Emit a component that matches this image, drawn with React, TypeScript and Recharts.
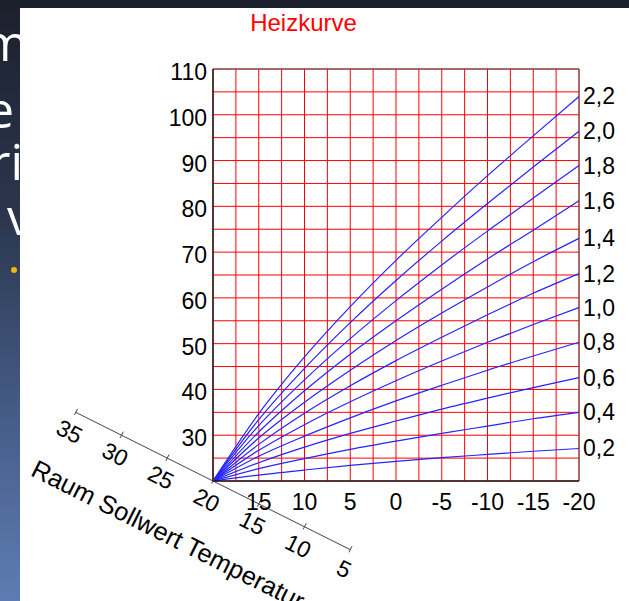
import React from "react";
import {
  LineChart, Line, XAxis, YAxis, CartesianGrid,
  ReferenceArea, ReferenceLine, ReferenceDot,
} from "recharts";

// Außentemperatur (x) und Vorlauftemperatur je Steilheit (y)
const aussen = [20, 15, 10, 5, 0, -5, -10, -15, -20];
const steilheiten = ["0,2", "0,4", "0,6", "0,8", "1,0", "1,2", "1,4", "1,6", "1,8", "2,0", "2,2"];
const k02 = [20, 21.3, 22.4, 23.4, 24.3, 25.1, 25.8, 26.5, 27.1];
const k04 = [20, 22.7, 24.9, 26.9, 28.7, 30.4, 32.0, 33.6, 35.0];
const k06 = [20, 24.0, 27.4, 30.4, 33.1, 35.7, 38.1, 40.4, 42.6];
const k08 = [20, 25.4, 29.8, 33.8, 37.5, 40.9, 44.2, 47.3, 50.3];
const k10 = [20, 26.7, 32.3, 37.3, 41.9, 46.2, 50.3, 54.2, 57.9];
const k12 = [20, 28.0, 34.8, 40.8, 46.3, 51.4, 56.3, 61.0, 65.3];
const k14 = [20, 29.4, 37.2, 44.2, 50.7, 56.7, 62.4, 67.9, 73.0];
const k16 = [20, 30.7, 39.7, 47.7, 55.0, 61.9, 68.5, 74.8, 81.2];
const k18 = [20, 32.1, 42.1, 51.1, 59.4, 67.2, 74.6, 81.8, 88.9];
const k20 = [20, 33.4, 44.6, 54.6, 63.8, 72.4, 80.6, 88.6, 96.4];
const k22 = [20, 34.7, 47.1, 58.1, 68.2, 77.6, 86.7, 95.4, 104.0];
const kurven = [k02, k04, k06, k08, k10, k12, k14, k16, k18, k20, k22];

const xTicks = [20, 17.5, 15, 12.5, 10, 7.5, 5, 2.5, 0, -2.5, -5, -7.5, -10, -12.5, -15, -17.5, -20];
const yTicks = [20, 25, 30, 35, 40, 45, 50, 55, 60, 65, 70, 75, 80, 85, 90, 95, 100, 105, 110];
const raumTicks = [35, 30, 25, 20, 15, 10, 5];

const daten = aussen.map((t, i) => {
  const row: Record<string, number> = { t };
  kurven.forEach((k, j) => { row["k" + j] = k[i]; });
  return row;
});

const schrift = "'Liberation Sans', Arial, sans-serif";
const winkel = 26.7;
const rad = (winkel * Math.PI) / 180;
const u = { x: Math.cos(rad), y: Math.sin(rad) };
const n = { x: -Math.sin(rad), y: Math.cos(rad) };

function XTick({ x, y, payload }: any) {
  const v = payload.value;
  if (v % 5 !== 0 || v === 20) return <g />;
  return (
    <text x={x} y={y + 29} textAnchor="middle" fontSize={23} fontFamily={schrift} fill="#000">
      {v}
    </text>
  );
}

function YTick({ x, y, payload }: any) {
  const v = payload.value;
  if (v % 10 !== 0 || v === 20) return <g />;
  return (
    <text x={x - 6} y={y + 11} textAnchor="end" fontSize={23} fontFamily={schrift} fill="#000">
      {v}
    </text>
  );
}

function raumTick(wert: number) {
  return (p: any) => {
    const { cx, cy } = p;
    const lx = cx + u.x * 3 + n.x * 20;
    const ly = cy + u.y * 3 + n.y * 20;
    return (
      <g>
        <line x1={cx - n.x * 4} y1={cy - n.y * 4} x2={cx + n.x * 3} y2={cy + n.y * 3} stroke="#444" />
        <text
          transform={`translate(${lx},${ly}) rotate(${winkel})`}
          textAnchor="middle" dominantBaseline="central"
          fontSize={23} fontFamily={schrift} fill="#000"
        >
          {wert}
        </text>
      </g>
    );
  };
}

function raumTitel(p: any) {
  const { cx, cy } = p;
  const lx = cx + u.x * -16 + n.x * 68;
  const ly = cy + u.y * -16 + n.y * 68;
  return (
    <text
      transform={`translate(${lx},${ly}) rotate(${winkel})`}
      textAnchor="middle" dominantBaseline="central"
      fontSize={25.5} fontFamily={schrift} fill="#000"
    >
      Raum Sollwert Temperatur
    </text>
  );
}

function endLabel(text: string, last: number) {
  return (p: any) => {
    if (p.index !== last) return <g key={p.index} />;
    return (
      <text key={p.index} x={p.cx + 4} y={p.cy + 8} fontSize={23} fontFamily={schrift} fill="#000">
        {text}
      </text>
    );
  };
}

export default function App() {
  const folie = { position: "absolute" as const, color: "#fff", fontSize: 50, lineHeight: "60px" };
  return (
    <div
      style={{
        position: "absolute", left: 0, top: 0, width: 629, height: 601, overflow: "hidden",
        background: "linear-gradient(180deg, #1b202c 0%, #2b364d 35%, #465d89 70%, #5d7db2 100%)",
        fontFamily: "'Open Sans', sans-serif",
      }}
    >
      {/* Reste vom Folientext links */}
      <div style={{ ...folie, left: -18, top: 12 }}>m</div>
      <div style={{ ...folie, left: -14, top: 79 }}>e</div>
      <div style={{ ...folie, left: -10, top: 131 }}>ri</div>
      <div style={{ ...folie, left: 7, top: 186 }}>v</div>
      <div style={{ position: "absolute", left: 11, top: 267, width: 6, height: 6, borderRadius: 3, background: "#f5b800" }} />

      <div style={{ position: "absolute", left: 20, top: 8, width: 609, height: 593, background: "#fff" }}>
        <svg width={609} height={40} style={{ position: "absolute", left: 0, top: 0 }}>
          <text x={283.5} y={22.7} textAnchor="middle" fontSize={24} fontFamily={schrift} fill="#ff0000">
            Heizkurve
          </text>
        </svg>
        <LineChart
          width={609} height={593} data={daten}
          margin={{ top: 61, right: 50, bottom: 0, left: 0 }}
          style={{ position: "absolute", left: 0, top: 0 }}
        >
          <CartesianGrid stroke="#ff0000" strokeWidth={1} />
          <ReferenceArea x1={20} x2={-20} y1={20} y2={110} fill="none" stroke="#555" ifOverflow="visible" />
          <XAxis
            dataKey="t" type="number" domain={[-20, 20]} reversed
            ticks={xTicks} interval={0} height={120} tickSize={0} tickMargin={0}
            tickLine={false} axisLine={{ stroke: "#000" }} tick={<XTick />}
          />
          <YAxis
            type="number" domain={[20, 110]}
            ticks={yTicks} interval={0} width={193} tickSize={0} tickMargin={0}
            tickLine={false} axisLine={{ stroke: "#000" }} tick={<YTick />}
          />
          {kurven.map((k, j) => (
            <Line
              key={j} dataKey={"k" + j} type="monotone" stroke="#2424ff" strokeWidth={1.2}
              dot={endLabel(steilheiten[j], k.length - 1)} activeDot={false}
              isAnimationActive={false}
            />
          ))}
          <ReferenceLine
            segment={[{ x: raumTicks[0], y: raumTicks[0] }, { x: raumTicks[raumTicks.length - 1], y: raumTicks[raumTicks.length - 1] }]}
            stroke="#444" ifOverflow="visible"
          />
          {raumTicks.map((r) => (
            <ReferenceDot key={r} x={r} y={r} r={0} ifOverflow="visible" shape={raumTick(r)} />
          ))}
          <ReferenceDot x={20} y={20} r={0} ifOverflow="visible" shape={raumTitel} />
        </LineChart>
      </div>
    </div>
  );
}
